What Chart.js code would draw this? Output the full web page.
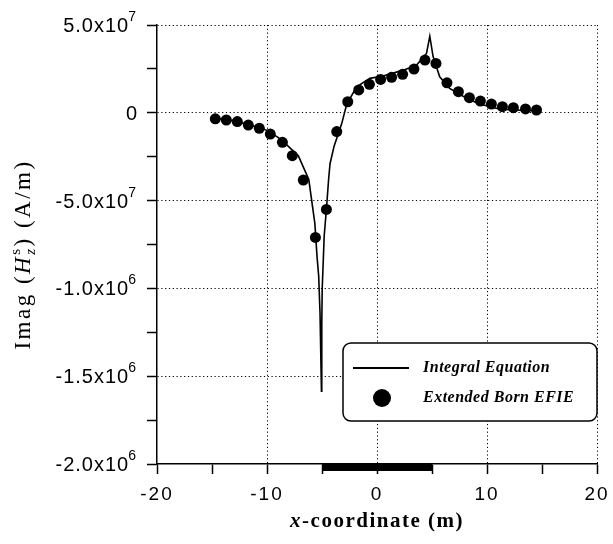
<!DOCTYPE html>
<html lang="en">
<head>
    <meta charset="UTF-8">
    <title>Imag(Hz) along x</title>
    <script src="https://cdn.jsdelivr.net/npm/chart.js"></script>
    <style>
        html, body { margin: 0; padding: 0; background: #fff; }
        .chart-container { position: relative; width: 613px; height: 544px; }
    </style>
</head>
<body>
    <div class="chart-container">
        <canvas id="fieldChart" width="613" height="544"></canvas>
    </div>

    <script>
        // Integral equation solution (solid line), y in units of 1e6 A/m
        const ieX = [-15, -14, -13, -12, -11, -10, -9, -8.2, -7.15, -6.2, -5.65, -5.45, -5.3, -5.18, -5.05,
                     -5.02, -4.98, -4.8, -4.6, -4.4, -4.27, -3.9, -3.2, -2.75, -1.85, -0.65, 0.55, 2.4, 3.6,
                     4.5, 4.8, 5.1, 5.7, 6.6, 8.4, 9.7, 11.2, 14.5];
        const ieY = [-0.03, -0.036, -0.046, -0.062, -0.08, -0.1, -0.14, -0.183, -0.245, -0.38, -0.63, -0.82, -0.93, -1.14, -1.585,
                     -1.2, -1.0, -0.70, -0.55, -0.38, -0.29, -0.19, -0.06, 0.05, 0.148, 0.196, 0.21, 0.243, 0.272,
                     0.338, 0.436, 0.32, 0.205, 0.139, 0.073, 0.044, 0.02, 0.01];

        // Extended Born EFIE (dots)
        const bornX = [-14.7, -13.7, -12.7, -11.7, -10.7, -9.7, -8.6, -7.7, -6.7, -5.6, -4.6, -3.66, -2.66, -1.66, -0.69,
                       0.33, 1.33, 2.33, 3.36, 4.36, 5.36, 6.36, 7.4, 8.4, 9.4, 10.4, 11.4, 12.4, 13.5, 14.5];
        const bornY = [-0.034, -0.041, -0.05, -0.07, -0.088, -0.121, -0.168, -0.244, -0.383, -0.71, -0.55, -0.107, 0.063, 0.13, 0.162,
                       0.19, 0.202, 0.219, 0.249, 0.30, 0.281, 0.171, 0.12, 0.086, 0.067, 0.05, 0.035, 0.029, 0.022, 0.016];

        // extent of the scatterer, marked on the x axis
        const objectX = [-5, 5];

        const xLabeled = [-20, -10, 0, 10, 20];
        // y tick labels as printed: mantissa part and exponent
        const yTickValues = [0.5, 0, -0.5, -1.0, -1.5, -2.0];
        const yTickBase = ['5.0x10', '0', '-5.0x10', '-1.0x10', '-1.5x10', '-2.0x10'];
        const yTickExp = ['7', '', '7', '6', '6', '6'];

        const SERIF = "'Liberation Serif', 'DejaVu Serif', serif";
        const SANS = "'Liberation Sans', Arial, sans-serif";

        function pairs(xs, ys) {
            return xs.map((x, i) => ({ x: x, y: ys[i] }));
        }

        // text runs side by side (a run may carry a stacked sub/superscript)
        function runsWidth(ctx, runs) {
            let w = 0;
            runs.forEach(r => {
                ctx.font = r.font;
                const a = ctx.measureText(r.text).width;
                let b = 0;
                if (r.stack) { ctx.font = r.stack.font; b = ctx.measureText(r.stack.text).width; }
                w += Math.max(a, b);
            });
            return w;
        }
        function drawRuns(ctx, runs, x, y) {
            runs.forEach(r => {
                ctx.font = r.font;
                ctx.fillText(r.text, x, y + (r.dy || 0));
                let a = ctx.measureText(r.text).width;
                if (r.stack) {
                    ctx.font = r.stack.font;
                    ctx.fillText(r.stack.text, x, y + r.stack.dy);
                    a = Math.max(a, ctx.measureText(r.stack.text).width);
                }
                x += a;
            });
        }

        const decorations = {
            id: 'decorations',
            beforeDraw(chart) {
                chart.ctx.letterSpacing = '2px';
            },
            afterDraw(chart) {
                const ctx = chart.ctx;
                const area = chart.chartArea;
                const xs = chart.scales.x, ys = chart.scales.y;

                // scatterer bar under the axis
                ctx.save();
                ctx.fillStyle = '#000';
                const bx0 = xs.getPixelForValue(objectX[0]);
                const bx1 = xs.getPixelForValue(objectX[1]);
                ctx.fillRect(bx0, ys.getPixelForValue(ys.min), bx1 - bx0, 7);
                ctx.restore();

                // y tick labels with raised exponents
                ctx.save();
                ctx.fillStyle = '#000';
                ctx.textBaseline = 'alphabetic';
                ctx.letterSpacing = '1px';
                yTickValues.forEach((v, i) => {
                    const py = ys.getPixelForValue(v);
                    ctx.font = '20px ' + SANS;
                    const wb = ctx.measureText(yTickBase[i]).width;
                    ctx.font = '14px ' + SANS;
                    const we = yTickExp[i] ? ctx.measureText(yTickExp[i]).width : 0;
                    const x0 = area.left - 19 - wb - we;
                    ctx.font = '20px ' + SANS;
                    ctx.fillText(yTickBase[i], x0, py + 7);
                    if (yTickExp[i]) {
                        ctx.font = '14px ' + SANS;
                        ctx.fillText(yTickExp[i], x0 + wb - 1, py - 4);
                    }
                });
                ctx.restore();

                // x axis title
                ctx.save();
                ctx.fillStyle = '#000';
                ctx.textBaseline = 'alphabetic';
                ctx.letterSpacing = '1.5px';
                const xRuns = [
                    { text: 'x', font: 'italic bold 21px ' + SERIF },
                    { text: '-coordinate (m)', font: 'bold 21px ' + SERIF }
                ];
                const xw = runsWidth(ctx, xRuns);
                drawRuns(ctx, xRuns, (area.left + area.right) / 2 - xw / 2, 527);
                ctx.restore();

                // y axis title, rotated
                ctx.save();
                ctx.fillStyle = '#000';
                ctx.textBaseline = 'alphabetic';
                ctx.letterSpacing = '2.5px';
                const yRuns = [
                    { text: 'Imag (', font: '23px ' + SERIF },
                    { text: 'H', font: 'italic 23px ' + SERIF },
                    { text: 'z', font: 'italic 15px ' + SERIF, dy: 5,
                      stack: { text: 's', font: '15px ' + SERIF, dy: -10 } },
                    { text: ') (A/m)', font: '23px ' + SERIF }
                ];
                const yw = runsWidth(ctx, yRuns);
                ctx.translate(30, (area.top + area.bottom) / 2 + 10);
                ctx.rotate(-Math.PI / 2);
                drawRuns(ctx, yRuns, -yw / 2, 0);
                ctx.restore();

                // legend box
                ctx.save();
                ctx.letterSpacing = '0.5px';
                const bw = 254, bh = 78;
                const bx = area.right - bw, by = area.top + 318;
                ctx.beginPath();
                if (ctx.roundRect) ctx.roundRect(bx, by, bw, bh, 8); else ctx.rect(bx, by, bw, bh);
                ctx.fillStyle = '#fff';
                ctx.fill();
                ctx.lineWidth = 1.5;
                ctx.strokeStyle = '#000';
                ctx.stroke();

                const ds = chart.data.datasets;
                ctx.beginPath();
                ctx.moveTo(bx + 10, by + 25);
                ctx.lineTo(bx + 66, by + 25);
                ctx.lineWidth = 2.2;
                ctx.stroke();
                ctx.beginPath();
                ctx.arc(bx + 39, by + 55, 9, 0, Math.PI * 2);
                ctx.fillStyle = '#000';
                ctx.fill();

                ctx.font = 'italic bold 16px ' + SERIF;
                ctx.textBaseline = 'middle';
                ctx.fillText(ds[0].label, bx + 80, by + 25);
                ctx.fillText(ds[1].label, bx + 80, by + 55);
                ctx.restore();
            }
        };

        const gridDash = [1.2, 2.6];

        const ctx = document.getElementById('fieldChart').getContext('2d');
        const fieldChart = new Chart(ctx, {
            type: 'scatter',
            data: {
                datasets: [{
                    label: 'Integral Equation',
                    data: pairs(ieX, ieY),
                    showLine: true,
                    borderColor: '#000',
                    borderWidth: 1.6,
                    pointRadius: 0,
                    tension: 0
                }, {
                    label: 'Extended Born EFIE',
                    data: pairs(bornX, bornY),
                    showLine: false,
                    backgroundColor: '#000',
                    borderWidth: 0,
                    pointRadius: 5.5
                }]
            },
            options: {
                responsive: false,
                animation: false,
                devicePixelRatio: 1,
                layout: { padding: { top: 25, right: 16, left: 0, bottom: 0 } },
                plugins: { legend: { display: false }, tooltip: { enabled: false } },
                scales: {
                    x: {
                        type: 'linear',
                        min: -20,
                        max: 20,
                        afterFit: s => { s.height = 80; s.paddingLeft = 0; s.paddingRight = 0; },
                        ticks: {
                            stepSize: 5,
                            color: '#000',
                            padding: 9,
                            maxRotation: 0,
                            font: { family: SANS, size: 19 },
                            callback: v => xLabeled.includes(v) ? String(v) : ''
                        },
                        grid: {
                            color: c => (c.tick && c.tick.value % 10 === 0 && c.tick.value !== -20) ? '#000' : 'rgba(0,0,0,0)',
                            lineWidth: 1,
                            tickColor: '#000',
                            tickLength: 10,
                            tickWidth: 1.5,
                            tickBorderDash: []
                        },
                        border: { color: '#000', width: 1.5, dash: gridDash }
                    },
                    y: {
                        min: -2,
                        max: 0.5,
                        afterFit: s => { s.width = 157; s.paddingTop = 0; s.paddingBottom = 0; },
                        ticks: {
                            stepSize: 0.25,
                            callback: () => ''
                        },
                        grid: {
                            color: c => (c.tick && Math.abs(c.tick.value * 2 - Math.round(c.tick.value * 2)) < 1e-9 && c.tick.value > -2) ? '#000' : 'rgba(0,0,0,0)',
                            lineWidth: 1,
                            tickColor: '#000',
                            tickLength: 10,
                            tickWidth: 1.5,
                            tickBorderDash: []
                        },
                        border: { color: '#000', width: 1.5, dash: gridDash }
                    }
                }
            },
            plugins: [decorations]
        });
    </script>
</body>
</html>
